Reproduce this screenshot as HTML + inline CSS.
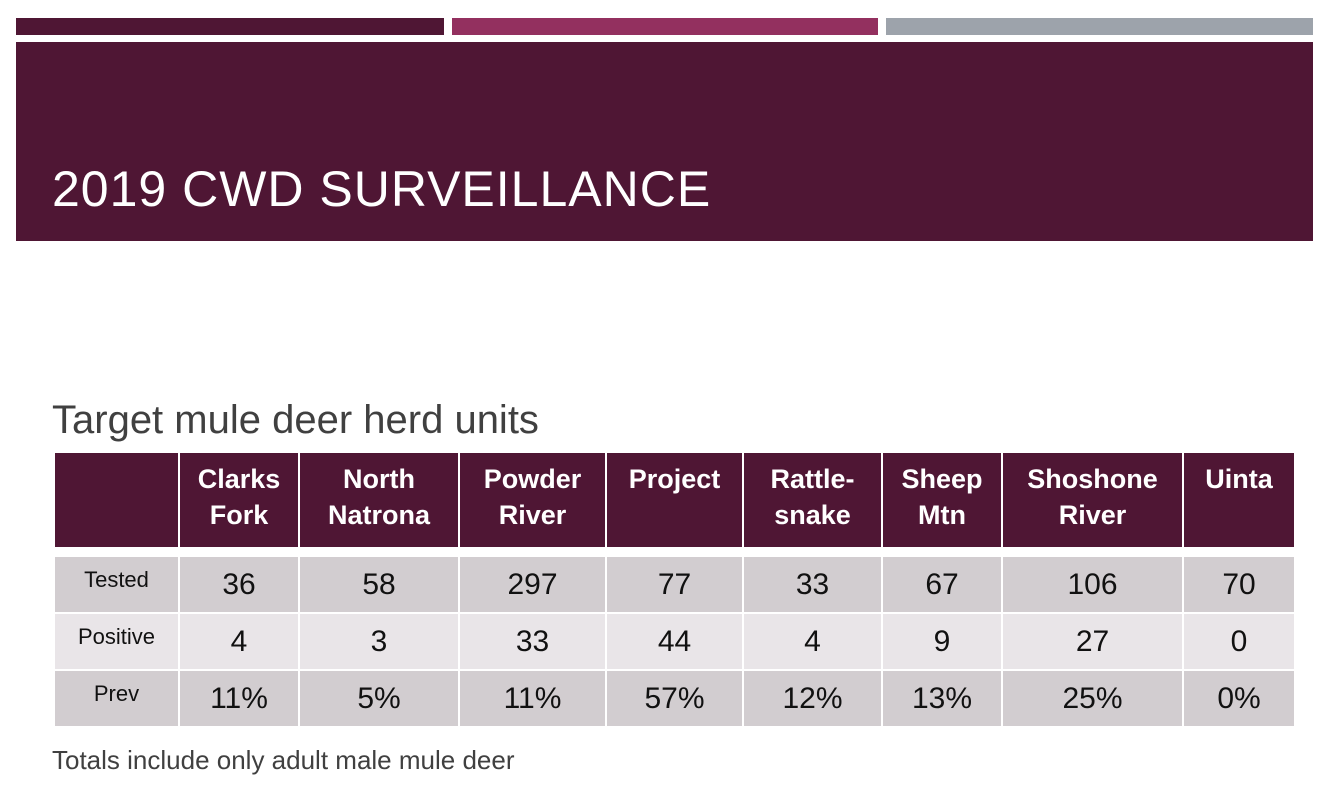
<!DOCTYPE html>
<html><head><meta charset="utf-8"><style>
body{margin:0;width:1331px;height:796px;background:#fff;position:relative;overflow:hidden;font-family:"Liberation Sans",sans-serif}
.bar{position:absolute;top:18px;height:17px}
#band{position:absolute;left:16px;top:42px;width:1297px;height:199px;background:#4f1634}
#title{position:absolute;left:52px;top:160px;color:#fff;font-size:50px;letter-spacing:1px;white-space:nowrap}
#sub{position:absolute;left:52px;top:398px;color:#404040;font-size:40px;white-space:nowrap}
#foot{position:absolute;left:52px;top:745px;color:#404040;font-size:26px;white-space:nowrap}
table{position:absolute;left:53px;top:451px;border-collapse:collapse}
td,th{border:2px solid #fff;text-align:center;padding:0}
th{background:#4f1634;color:#fff;font-size:27px;font-weight:bold;vertical-align:top;height:96px;line-height:36px;padding-top:8px;box-sizing:border-box}
td{font-size:30px;color:#111;height:55px}
td.l{font-size:22px;vertical-align:top;padding-top:10px;box-sizing:border-box}
tr.a td{background:#d2cdd0}
tr.b td{background:#e9e5e8}
tr.g td{height:6px;background:#fff;border:none}
</style></head><body>
<div class="bar" style="left:16px;width:428px;background:#4f1634"></div>
<div class="bar" style="left:452px;width:426px;background:#93305f"></div>
<div class="bar" style="left:886px;width:427px;background:#9da3ab"></div>
<div id="band"></div>
<div id="title">2019 CWD SURVEILLANCE</div>
<div id="sub">Target mule deer herd units</div>
<table>
<tr>
<th style="width:125px"></th><th style="width:120px">Clarks<br>Fork</th><th style="width:160px">North<br>Natrona</th><th style="width:147px">Powder<br>River</th><th style="width:137px">Project</th><th style="width:139px">Rattle-<br>snake</th><th style="width:120px">Sheep<br>Mtn</th><th style="width:181px">Shoshone<br>River</th><th style="width:112px">Uinta</th></tr>
<tr class="g"><td colspan="9"></td></tr>
<tr class="a"><td class="l">Tested</td><td>36</td><td>58</td><td>297</td><td>77</td><td>33</td><td>67</td><td>106</td><td>70</td></tr>
<tr class="b"><td class="l">Positive</td><td>4</td><td>3</td><td>33</td><td>44</td><td>4</td><td>9</td><td>27</td><td>0</td></tr>
<tr class="a"><td class="l">Prev</td><td>11%</td><td>5%</td><td>11%</td><td>57%</td><td>12%</td><td>13%</td><td>25%</td><td>0%</td></tr>
</table>
<div id="foot">Totals include only adult male mule deer</div>
</body></html>
